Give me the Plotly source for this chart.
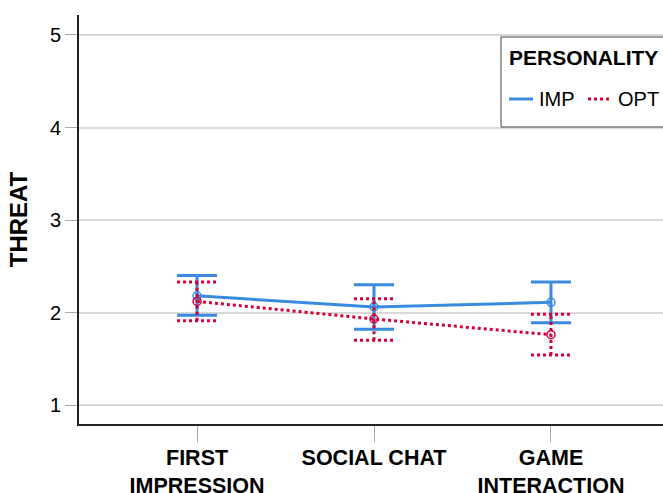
import plotly.graph_objects as go

# Conditions on the x axis
categories = ["FIRST<br>IMPRESSION", "SOCIAL CHAT", "GAME<br>INTERACTION"]

# Mean THREAT score and 95% CI bounds per personality group
groups = ["IMP", "OPT"]
imp_mean = [2.18, 2.06, 2.11]
imp_low = [1.97, 1.82, 1.89]
imp_high = [2.40, 2.30, 2.33]

opt_mean = [2.12, 1.93, 1.76]
opt_low = [1.91, 1.70, 1.54]
opt_high = [2.33, 2.15, 1.98]

y_ticks = [1, 2, 3, 4, 5]
legend_title = "PERSONALITY"

BLUE = "#3A8BDF"
RED = "#D4003A"
FONT = "Liberation Sans, Arial, sans-serif"

W, H = 663, 493
M_L, M_R, M_T, M_B = 79, 0, 15, 69
PW, PH = W - M_L - M_R, H - M_T - M_B


def px_x(px):
    """Horizontal pixel position -> paper coordinate."""
    return (px - M_L) / PW


def px_y(py):
    """Vertical pixel position (from top) -> paper coordinate."""
    return (H - M_B - py) / PH


x_pos = list(range(len(categories)))
cap = 0.113  # half cap width in category units

fig = go.Figure()

fig.add_trace(go.Scatter(
    x=x_pos, y=imp_mean, name=groups[0], mode="lines+markers",
    line=dict(color=BLUE, width=3),
    marker=dict(symbol="circle-open", size=8, color=BLUE, line=dict(width=1.5)),
    error_y=dict(
        type="data", symmetric=False,
        array=[h - m for h, m in zip(imp_high, imp_mean)],
        arrayminus=[m - l for m, l in zip(imp_mean, imp_low)],
        color=BLUE, thickness=3, width=20,
    ),
))

# dotted error bars for the OPT group (stem plus both caps)
ex, ey = [], []
for x, lo, hi in zip(x_pos, opt_low, opt_high):
    ex += [x, x, None, x - cap, x + cap, None, x - cap, x + cap, None]
    ey += [lo, hi, None, hi, hi, None, lo, lo, None]
fig.add_trace(go.Scatter(
    x=ex, y=ey, mode="lines", showlegend=False, hoverinfo="skip",
    line=dict(color=RED, width=3, dash="dot"),
))

fig.add_trace(go.Scatter(
    x=x_pos, y=opt_mean, name=groups[1], mode="lines+markers",
    line=dict(color=RED, width=3, dash="dot"),
    marker=dict(symbol="circle-open", size=8, color=RED, line=dict(width=1.5)),
))

# legend box drawn in the top-right corner, running off the right edge
shapes = [
    dict(type="rect", xref="paper", yref="paper",
         x0=px_x(501), x1=px_x(W + 20), y0=px_y(127), y1=px_y(37),
         line=dict(color="#444", width=1), fillcolor="white", layer="above"),
    dict(type="line", xref="paper", yref="paper",
         x0=px_x(509), x1=px_x(533), y0=px_y(99), y1=px_y(99),
         line=dict(color=BLUE, width=3), layer="above"),
    dict(type="line", xref="paper", yref="paper",
         x0=px_x(588), x1=px_x(612), y0=px_y(99), y1=px_y(99),
         line=dict(color=RED, width=3, dash="dot"), layer="above"),
]
annotations = [
    dict(text=legend_title, xref="paper", yref="paper",
         x=px_x(507), y=px_y(57), xanchor="left", yanchor="middle",
         showarrow=False, font=dict(size=21, weight="bold", color="black")),
    dict(text=groups[0], xref="paper", yref="paper",
         x=px_x(537), y=px_y(99), xanchor="left", yanchor="middle",
         showarrow=False, font=dict(size=20, color="black")),
    dict(text=groups[1], xref="paper", yref="paper",
         x=px_x(616), y=px_y(99), xanchor="left", yanchor="middle",
         showarrow=False, font=dict(size=20, color="black")),
]

fig.update_layout(
    width=W, height=H,
    margin=dict(l=M_L, r=M_R, t=M_T, b=M_B, autoexpand=False),
    paper_bgcolor="white", plot_bgcolor="white",
    font=dict(family=FONT, color="black", size=20),
    showlegend=False,
    shapes=shapes,
    annotations=annotations,
    xaxis=dict(
        range=[-0.667, 2.633],
        tickvals=x_pos, ticktext=categories,
        tickfont=dict(size=21.5, weight="bold"),
        ticklabelstandoff=-3,
        showgrid=False, zeroline=False,
        showline=True, linecolor="#222", linewidth=2,
        ticks="outside", ticklen=16, tickcolor="#aaa", tickwidth=1,
    ),
    yaxis=dict(
        range=[0.795, 5.216],
        tickvals=y_ticks,
        tickfont=dict(size=20),
        showgrid=True, gridcolor="#d9d9d9", gridwidth=2,
        zeroline=False,
        showline=True, linecolor="#222", linewidth=2,
        ticks="outside", ticklen=12, tickcolor="#aaa", tickwidth=1,
        title=dict(text="THREAT", font=dict(size=24, weight="bold"), standoff=15),
    ),
)

fig.write_html("out.html")
